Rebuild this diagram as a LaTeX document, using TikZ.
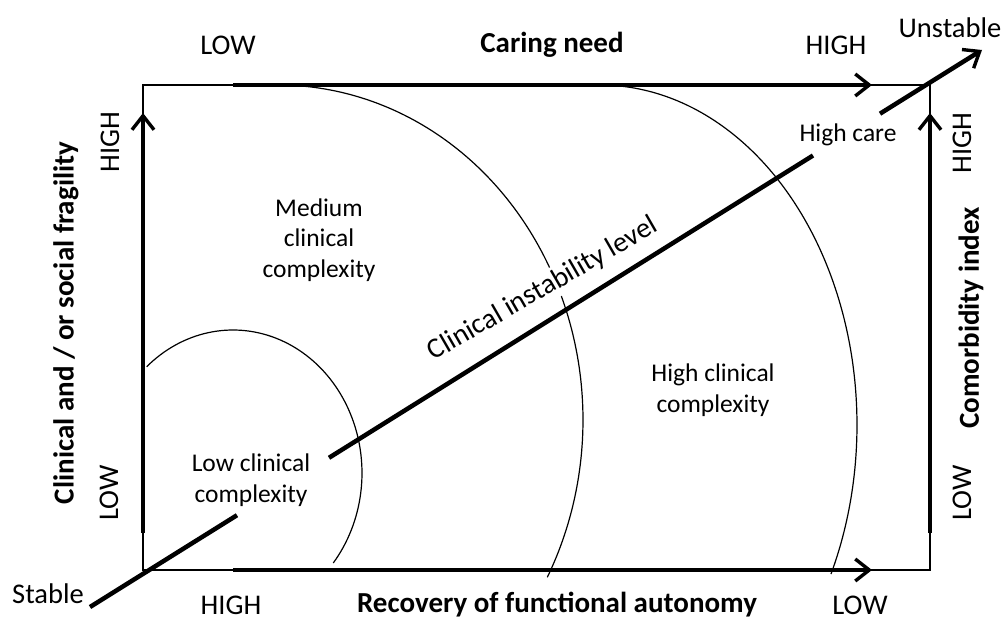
\documentclass[tikz,border=0pt]{standalone}
\usepackage{fontspec}
\setmainfont{Carlito}
\usetikzlibrary{arrows.meta}
\begin{document}
\begin{tikzpicture}[x=1pt,y=-1pt,
  thinline/.style={line width=1.8pt},
  barb/.style={-{Straight Barb[length=14pt,width=22pt,line width=3.4pt]}},
  thickarrow/.style={line width=4pt, barb},
  diagline/.style={line width=4.5pt},
  arcline/.style={line width=1.2pt},
  axislab/.style={font=\fontsize{28.5}{34}\selectfont, inner sep=0pt},
  boldlab/.style={font=\fontsize{29}{34}\selectfont\bfseries, inner sep=0pt},
  region/.style={font=\fontsize{25.5}{30.5}\selectfont, align=center, inner sep=0pt},
  diaglab/.style={font=\fontsize{28.5}{34}\selectfont, inner sep=3pt, fill=white},
]
\useasboundingbox (0,0) rectangle (1005,621);
\fill[white] (0,0) rectangle (1005,621);

% frame
\coordinate (TL) at (143,85);
\coordinate (TR) at (930,85);
\coordinate (BR) at (930,570);
\coordinate (BL) at (143,570);
\draw[thinline] (TL) -- (TR) -- (BR) -- (BL) -- cycle;

% arcs
\draw[arcline] plot[domain=-39:132, samples=90, variable=\t]
  ({233+129*cos(\t)},{473-143*sin(\t)});
\draw[arcline] plot[domain=-28:88, samples=120, variable=\t]
  ({278+305*cos(\t)},{420-335*sin(\t)});
\draw[arcline] plot[domain=-26:90, samples=120, variable=\t]
  ({600+257*cos(\t)},{425-340*sin(\t)});

% axis arrows
\coordinate (topS) at (233,85);   \coordinate (topE) at (872,85);
\coordinate (botS) at (233,570);  \coordinate (botE) at (872,570);
\coordinate (lefS) at (143,533);  \coordinate (lefE) at (143,113);
\coordinate (rigS) at (930,533);  \coordinate (rigE) at (930,113);
\draw[thickarrow] (topS) -- (topE);
\draw[thickarrow] (botS) -- (botE);
\draw[thickarrow] (lefS) -- (lefE);
\draw[thickarrow] (rigS) -- (rigE);

% diagonal label (covers the arc behind it)
\node[diaglab, rotate=30] (instab) at (543,289) {Clinical instability level};

% diagonal
\coordinate (dS) at (90,607);
\coordinate (dA1) at (237,515.2);
\coordinate (dA2) at (329,457.8);
\coordinate (dB1) at (813,155.5);
\coordinate (dB2) at (880,113.7);
\coordinate (dU) at (982,50);
\draw[diagline] (dS) -- (dA1);
\draw[diagline] (dA2) -- (dB1);
\draw[diagline, barb] (dB2) -- (dU);

% labels
\node[axislab] (lowTop) at (228,45) {LOW};
\node[boldlab] (caring) at (552,45) {Caring need};
\node[axislab] (highTop) at (836,45) {HIGH};
\node[axislab] (unstable) at (950,28) {Unstable};
\node[region] (highcare) at (848,135) {High care};
\node[region] (medium) at (319,240) {Medium\\clinical\\complexity};
\node[region] (high) at (713,390) {High clinical\\complexity};
\node[region] (low) at (251,480) {Low clinical\\complexity};
\node[axislab, rotate=90] (highL) at (110,142) {HIGH};
\node[axislab, rotate=90] (lowL) at (109,493) {LOW};
\node[boldlab, rotate=90] (fragility) at (66,323) {Clinical and / or social fragility};
\node[axislab, rotate=90] (highR) at (962,143) {HIGH};
\node[axislab, rotate=90] (lowR) at (962,493) {LOW};
\node[boldlab, rotate=90] (comorb) at (971,318) {Comorbidity index};
\node[axislab] (highB) at (231,605) {HIGH};
\node[boldlab] (recovery) at (557,605) {Recovery of functional autonomy};
\node[axislab] (lowB) at (860,605) {LOW};
\node[axislab] (stable) at (48,594) {Stable};
\end{tikzpicture}
\end{document}
